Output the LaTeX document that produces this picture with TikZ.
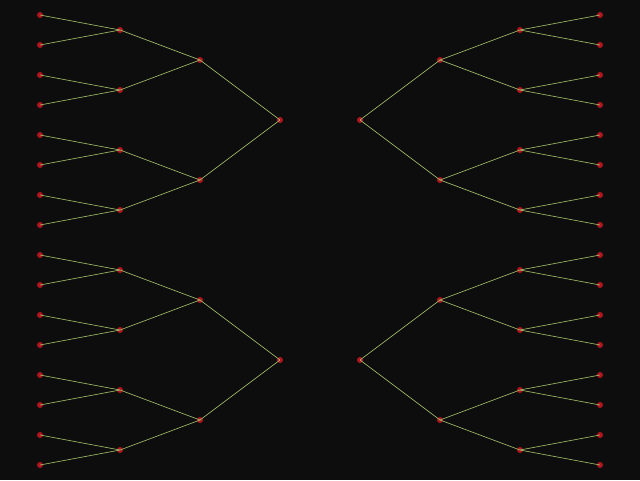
\documentclass[tikz,border=0pt]{standalone}
\definecolor{bg}{HTML}{0D0D0D}
\definecolor{dotc}{HTML}{B0141E}
\definecolor{edgec}{HTML}{A0BC68}
\begin{document}
\begin{tikzpicture}[x=1pt,y=-1pt,
  dot/.style={circle,fill=dotc,inner sep=0pt,minimum size=6pt},
  edge/.style={draw=edgec,line width=0.65pt}]
\fill[bg] (0,0) rectangle (640,480);
\useasboundingbox (0,0) rectangle (640,480);
\foreach \s/\xa/\xb/\xc/\xd in {L/280/200/120/40, R/360/440/520/600}{
 \foreach \t/\oy in {T/0,B/240}{
  \node[dot] (\s\t) at (\xa,120+\oy) {};
  \foreach \i in {0,1}{
   \node[dot] (\s\t-\i) at (\xb,60+120*\i+\oy) {};
   \foreach \j in {0,1}{
    \node[dot] (\s\t-\i\j) at (\xc,30+120*\i+60*\j+\oy) {};
    \foreach \k in {0,1}{
     \node[dot] (\s\t-\i\j\k) at (\xd,15+120*\i+60*\j+30*\k+\oy) {};
    }
   }
  }
 }
}
\foreach \s in {L,R}{
 \foreach \t in {T,B}{
  \foreach \i in {0,1}{
   \draw[edge] (\s\t.center) -- (\s\t-\i.center);
   \foreach \j in {0,1}{
    \draw[edge] (\s\t-\i.center) -- (\s\t-\i\j.center);
    \foreach \k in {0,1}{
     \draw[edge] (\s\t-\i\j.center) -- (\s\t-\i\j\k.center);
    }
   }
  }
 }
}
\end{tikzpicture}
\end{document}
